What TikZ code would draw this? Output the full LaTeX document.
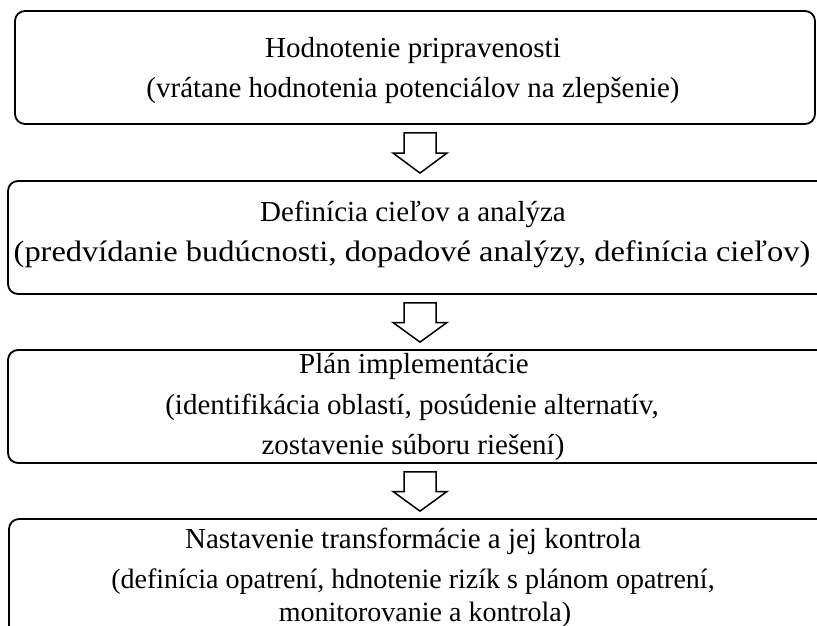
\documentclass[tikz,border=0pt]{standalone}
\usepackage{fontspec}
\setmainfont{Liberation Serif}
\usetikzlibrary{calc}
\begin{document}
\begin{tikzpicture}[x=1pt,y=1pt,
  stagebox/.style={draw=black, line width=1.8pt, rounded corners=10pt, inner sep=0pt, fill=white},
  txt/.style={anchor=base, inner sep=0pt, font=\fontsize{29pt}{35pt}\selectfont, text=black},
  txtsmall/.style={txt, font=\fontsize{28pt}{33pt}\selectfont},
  blk/.style={draw=black, line width=1.5pt, fill=white, line join=miter}]
\clip (0,0) rectangle (817,-626);
\fill[white] (0,0) rectangle (817,-626);
\coordinate (ax) at (420,0);
% boxes
\node[stagebox, minimum width=800pt, minimum height=113pt] (b1) at (415,-67.5) {};
\node[stagebox, minimum width=822pt, minimum height=113pt] (b2) at (419,-237.5) {};
\node[stagebox, minimum width=822pt, minimum height=113pt] (b3) at (419,-406.5) {};
\node[stagebox, minimum width=822pt, minimum height=121pt] (b4) at (420,-579.5) {};
% texts
\node[txt] (t11) at (413,-57.5) {Hodnotenie pripravenosti};
\node[txt] (t12) at (413,-97) {(vrátane hodnotenia potenciálov na zlepšenie)};
\node[txt] (t21) at (413,-221) {Definícia cieľov a analýza};
\node[txt] (t22) at (412,-261.5) {\scalebox{1.12}[1.02]{(predvídanie budúcnosti, dopadové analýzy, definícia cieľov)}};
\node[txt] (t31) at (414,-373) {Plán implementácie};
\node[txt] (t32) at (412,-414) {(identifikácia oblastí, posúdenie alternatív,};
\node[txt] (t33) at (413,-454) {zostavenie súboru riešení)};
\node[txt] (t41) at (413,-548) {Nastavenie transformácie a jej kontrola};
\node[txtsmall] (t42) at (413,-588) {(definícia opatrení, hdnotenie rizík s plánom opatrení,};
\node[txtsmall] (t43) at (425,-621) {monitorovanie a kontrola)};
% block arrows
\foreach \u/\l/\i in {b1/b2/1, b2/b3/2, b3/b4/3}{
  \path ($(\u.south -| ax)+(0,-8)$) coordinate (s\i)
        ($(\l.north -| ax)+(0,7)$) coordinate (e\i)
        ($(s\i)!0.5!(e\i)$) coordinate (m\i);
  \draw[blk] ($(s\i)+(-16,0)$) -- ($(s\i)+(16,0)$) -- ($(m\i)+(16,0)$) -- ($(m\i)+(27,0)$)
     -- (e\i) -- ($(m\i)+(-27,0)$) -- ($(m\i)+(-16,0)$) -- cycle;
}
\end{tikzpicture}
\end{document}
